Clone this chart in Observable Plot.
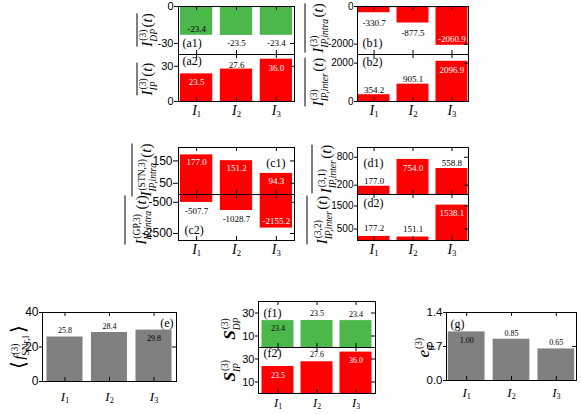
<!DOCTYPE html>
<html><head><meta charset="utf-8">
<script src="https://cdn.jsdelivr.net/npm/d3@7"></script>
<script src="https://cdn.jsdelivr.net/npm/@observablehq/plot@0.6"></script>
<style>
body{margin:0;background:#fff;}
#chart{position:relative;width:581px;height:414px;overflow:hidden;background:#fff;}
#chart svg{position:absolute;overflow:visible;}
</style></head><body><div id="chart"></div>
<script>
// ---- data ----
const categories = ["I1", "I2", "I3"];
const a1Values = [-23.4, -23.5, -23.4];
const a2Values = [23.5, 27.6, 36.0];
const b1Values = [-330.7, -877.5, -2060.9];
const b2Values = [354.2, 905.1, 2096.9];
const c1Values = [177.0, 151.2, 94.3];
const c2Values = [-507.7, -1028.7, -2155.2];
const d1Values = [177.0, 754.0, 558.8];
const d2Values = [177.2, 151.1, 1538.1];
const eValues = [25.8, 28.4, 29.8];
const f1Values = [23.4, 23.5, 23.4];
const f2Values = [23.5, 27.6, 36.0];
const gValues = [1.00, 0.85, 0.65];
const a1Ticks = [0, -30], a2Ticks = [0, 30];
const b1Ticks = [0, -2000], b2Ticks = [0, 2000];
const c1Ticks = [50, 150], c2Ticks = [-500, -2500];
const d1Ticks = [200, 800], d2Ticks = [500, 1500];
const eTicks = [0, 20, 40], fTicks = [10, 30], gTicks = [0, 0.7, 1.4];

const serif = "'Liberation Serif','Times New Roman',serif";
const sans = "'Liberation Sans',Arial,sans-serif";
const GREEN = "#4cb84c", RED = "#ff0000", GRAY = "#808080";
const root = document.getElementById("chart");
const NS = "http://www.w3.org/2000/svg";

function panel(o) {
  const [x0, x1, y0, y1] = o.frame;
  const W = x1 - x0, H = y1 - y0;
  const ML = 50, MR = 10, MT = 10, MB = o.xAxis ? 30 : 10;
  const data = o.values.map((v, i) => ({c: categories[i], v, p: o.place[i]}));
  const vf = o.valFont || 9;
  const txt = (filter, anchor, dy, fill) => Plot.text(data.filter(filter), {
    x: "c", y: "v", text: d => d.v.toFixed(o.dec == null ? 1 : o.dec),
    lineAnchor: anchor, dy, fill, fontFamily: serif, fontSize: vf
  });
  const marks = [
    Plot.barY(data, {x: "c", y: "v", fill: o.color}),
    txt(d => d.v >= 0 && d.p === "out", "bottom", -o.gapOut, "black"),
    txt(d => d.v >= 0 && d.p === "in", "top", o.gapIn, o.inColor),
    txt(d => d.v < 0 && d.p === "out", "top", o.gapOut, "black"),
    txt(d => d.v < 0 && d.p === "in", "bottom", -o.gapIn, o.inColor),
    Plot.tickX(categories, {x: d => d, insetTop: H - 4, stroke: "black"}),
    Plot.tickX(categories, {x: d => d, insetBottom: H - 4, stroke: "black"}),
    Plot.tickY(o.ticks, {y: d => d, insetLeft: W - 4, stroke: "black"}),
    Plot.axisY({ticks: o.ticks, tickFormat: o.tickFmt || (d => String(d)), tickSize: o.tickSize, tickPadding: o.tickPad,
      fontSize: o.tickFont, fontFamily: sans, label: null, fill: "black", stroke: "black"}),
    Plot.frame({stroke: "black"}),
    Plot.text([o.tag], {text: d => d, frameAnchor: o.tagAnchor,
      textAnchor: o.tagAnchor.endsWith("right") ? "end" : "start", lineAnchor: "middle",
      dx: o.tagDx, dy: o.tagDy, fontFamily: serif, fontSize: 12, fill: "black"})
  ];
  if (o.xAxis) marks.push(Plot.axisX({tickSize: 0, tickPadding: o.xPad, fontSize: o.xFont || 14, fontFamily: serif, label: null, fill: "black"}));
  const svg = Plot.plot({
    width: W + ML + MR, height: H + MT + MB,
    marginLeft: ML, marginRight: MR, marginTop: MT, marginBottom: MB,
    style: {background: "transparent", overflow: "visible"},
    x: {domain: categories, paddingInner: o.pad[0], paddingOuter: o.pad[1], round: false, axis: null},
    y: {domain: o.domain, axis: null},
    marks
  });
  svg.style.position = "absolute";
  svg.style.left = (x0 - ML) + "px";
  svg.style.top = (y0 - MT) + "px";
  svg.style.maxWidth = "none";
  svg.querySelectorAll('g[aria-label="x-axis tick label"] text').forEach(t => {
    const s = t.textContent;
    t.textContent = "";
    const a = document.createElementNS(NS, "tspan");
    a.setAttribute("font-style", "italic"); a.textContent = s[0];
    const b = document.createElementNS(NS, "tspan");
    b.setAttribute("font-size", "0.62em"); b.setAttribute("dy", "0.22em"); b.textContent = s.slice(1);
    t.appendChild(a); t.appendChild(b);
  });
  root.appendChild(svg);
}

const common = {tickSize: 4, tickPad: 1, inColor: "white"};
panel({...common, values: a1Values, frame: [178, 294, 6, 54], domain: [-39, 0], ticks: a1Ticks, color: GREEN, inColor: "black",
  place: ["in", "out", "out"], gapOut: 4, gapIn: 3, tag: "(a1)", tagAnchor: "bottom-left", tagDx: 4, tagDy: -11, tickFont: 11, pad: [0.19, 0.05]});
panel({...common, values: a2Values, frame: [178, 294, 54, 101], domain: [0, 40], ticks: a2Ticks, color: RED,
  place: ["in", "out", "in"], gapOut: 1.5, gapIn: 5, tag: "(a2)", tagAnchor: "top-left", tagDx: 4, tagDy: 7, tickFont: 11, pad: [0.19, 0.05], xAxis: true, xPad: 4});
panel({...common, values: b1Values, frame: [357, 468, 6, 54], domain: [-2550, 0], ticks: b1Ticks, color: RED, tickSize: 3,
  place: ["out", "out", "in"], gapOut: 6.5, gapIn: 3, tag: "(b1)", tagAnchor: "bottom-left", tagDx: 5, tagDy: -11, tickFont: 10, pad: [0.18, 0.015]});
panel({...common, values: b2Values, frame: [357, 468, 54, 101], domain: [0, 2450], ticks: b2Ticks, color: RED, tickSize: 3,
  place: ["out", "out", "in"], gapOut: 2, gapIn: 5, tag: "(b2)", tagAnchor: "top-left", tagDx: 5, tagDy: 8, tickFont: 10, pad: [0.18, 0.015], xAxis: true, xPad: 4});
panel({...common, values: c1Values, frame: [178, 294, 147, 194], domain: [0, 210], ticks: c1Ticks, color: RED, tickSize: 5,
  place: ["in", "in", "in"], gapOut: 3, gapIn: 4, tag: "(c1)", tagAnchor: "top-right", tagDx: -9, tagDy: 16, tickFont: 12, pad: [0.19, 0.05]});
panel({...common, values: c2Values, frame: [178, 294, 194, 240], domain: [-2950, 0], ticks: c2Ticks, color: RED, tickSize: 5,
  place: ["out", "out", "in"], gapOut: 5, gapIn: 4, tag: "(c2)", tagAnchor: "bottom-left", tagDx: 6, tagDy: -10, tickFont: 12, pad: [0.19, 0.05], xAxis: true, xPad: 4});
panel({...common, values: d1Values, frame: [357, 468, 147, 194], domain: [0, 1010], ticks: d1Ticks, color: RED, tickSize: 3,
  place: ["out", "in", "out"], gapOut: 2.5, gapIn: 5, tag: "(d1)", tagAnchor: "top-left", tagDx: 6, tagDy: 16, tickFont: 10, pad: [0.18, 0.015]});
panel({...common, values: d2Values, frame: [357, 468, 194, 240], domain: [0, 2000], ticks: d2Ticks, color: RED, tickSize: 3,
  place: ["out", "out", "in"], gapOut: 5, gapIn: 4, tag: "(d2)", tagAnchor: "top-left", tagDx: 6, tagDy: 9, tickFont: 10, pad: [0.18, 0.015], xAxis: true, xPad: 4});
panel({...common, values: eValues, frame: [42, 176, 312, 381], domain: [0, 40], ticks: eTicks, color: GRAY, inColor: "black", tickSize: 3,
  place: ["out", "out", "in"], gapOut: 4, gapIn: 5, tag: "(e)", tagAnchor: "top-right", tagDx: -3, tagDy: 11, tickFont: 12, valFont: 8, pad: [0.19, 0.1], xAxis: true, xPad: 10, xFont: 13});
panel({...common, values: f1Values, frame: [258, 375, 301, 347], domain: [0, 40], ticks: fTicks, color: GREEN, inColor: "black", tickSize: 3,
  place: ["in", "out", "out"], gapOut: 4, gapIn: 5, tag: "(f1)", tagAnchor: "top-left", tagDx: 5, tagDy: 12, tickFont: 11, valFont: 8, pad: [0.18, 0.09]});
panel({...common, values: f2Values, frame: [258, 375, 347, 393], domain: [0, 40], ticks: fTicks, color: RED, tickSize: 3,
  place: ["in", "out", "in"], gapOut: 5, gapIn: 5.5, tag: "(f2)", tagAnchor: "top-left", tagDx: 5, tagDy: 6, tickFont: 11, valFont: 8, pad: [0.18, 0.09], xAxis: true, xPad: 5, xFont: 12.5});
panel({...common, values: gValues, frame: [446, 576, 312, 380], domain: [0, 1.4], ticks: gTicks, color: GRAY, inColor: "black", tickSize: 3,
  tickFmt: d => d.toFixed(1), dec: 2,
  place: ["in", "out", "out"], gapOut: 3.5, gapIn: 5, tag: "(g)", tagAnchor: "top-left", tagDx: 4, tagDy: 12, tickFont: 11.5, valFont: 8, pad: [0.18, 0.04], xAxis: true, xPad: 7, xFont: 13});

// ---- axis titles (rotated math text) ----
const ov = d3.select(root).append("svg").attr("width", 581).attr("height", 414)
  .style("left", "0px").style("top", "0px").style("pointer-events", "none");

function mathLabel(o) {
  const size = o.size || 15, ss = o.subSize || 9.5;
  const g = ov.append("g").attr("transform", `translate(${o.x},${o.y}) rotate(-90)`);
  const inner = g.append("g");
  const put = (parts, x, y, sz, bold) => {
    const t = inner.append("text").attr("x", x).attr("y", y).attr("font-family", serif)
      .attr("font-size", sz).attr("font-weight", bold ? "bold" : "normal").attr("fill", "black");
    parts.forEach(([s, it]) => t.append("tspan").attr("font-style", it ? "italic" : "normal").text(s));
    return t.node().getComputedTextLength();
  };
  let cx = 0;
  if (o.pre) cx += put([[o.pre, false]], cx, o.preDy || 0, o.preSize || size) + 1;
  cx += put([[o.main, true]], cx, 0, size, o.bold);
  const ws = o.sup ? put([[o.sup, false]], cx + 1, -size * 0.42, ss) : 0;
  const wb = o.sub ? put([[o.sub, o.subItalic !== false]], cx, size * 0.3, ss) : 0;
  cx += Math.max(ws + 1, wb) + 1.5;
  if (o.tail) cx += put([["(", false], ["t", true], [")", false]], cx, 0, size);
  if (o.post) cx += 1 + put([[o.post, false]], cx + 1, o.preDy || 0, o.preSize || size);
  inner.attr("transform", `translate(${-cx / 2},${size * 0.35})`);
  if (o.overX != null) {
    const ly = (o.overX - o.x) - size * 0.35;
    inner.append("line").attr("x1", 0).attr("x2", cx).attr("y1", ly).attr("y2", ly)
      .attr("stroke", "black").attr("stroke-width", 1);
  }
}

mathLabel({x: 147, y: 30, main: "I", sup: "(3)", sub: "DP", tail: true, overX: 137});
mathLabel({x: 147, y: 79, main: "I", sup: "(3)", sub: "IP", tail: true, overX: 137});
mathLabel({x: 318, y: 28, main: "I", sup: "(3)", sub: "IP,intra", tail: true, overX: 305});
mathLabel({x: 318, y: 82, main: "I", sup: "(3)", sub: "IP,inter", tail: true, overX: 305});
mathLabel({x: 146, y: 170, main: "I", sup: "(STN,3)", sub: "IP,intra", tail: true, overX: 132});
mathLabel({x: 141, y: 220, main: "I", sup: "(GP,3)", sub: "IP,intra", tail: true, overX: 125});
mathLabel({x: 326, y: 169, main: "I", sup: "(3,1)", sub: "IP,inter", tail: true, overX: 312});
mathLabel({x: 322, y: 220, main: "I", sup: "(3,2)", sub: "IP,inter", tail: true, overX: 307});
mathLabel({x: 19, y: 347, pre: "⟨", post: "⟩", preSize: 20, preDy: 1, main: "f", sup: "(3)", sub: "SNr,l", subItalic: false, size: 15});
mathLabel({x: 229, y: 328, main: "S", bold: true, sup: "(3)", sub: "DP", size: 17});
mathLabel({x: 229, y: 370, main: "S", bold: true, sup: "(3)", sub: "IP", size: 17});
mathLabel({x: 423, y: 347, main: "e", sup: "(3)", sub: "d", size: 17});
</script></body></html>
